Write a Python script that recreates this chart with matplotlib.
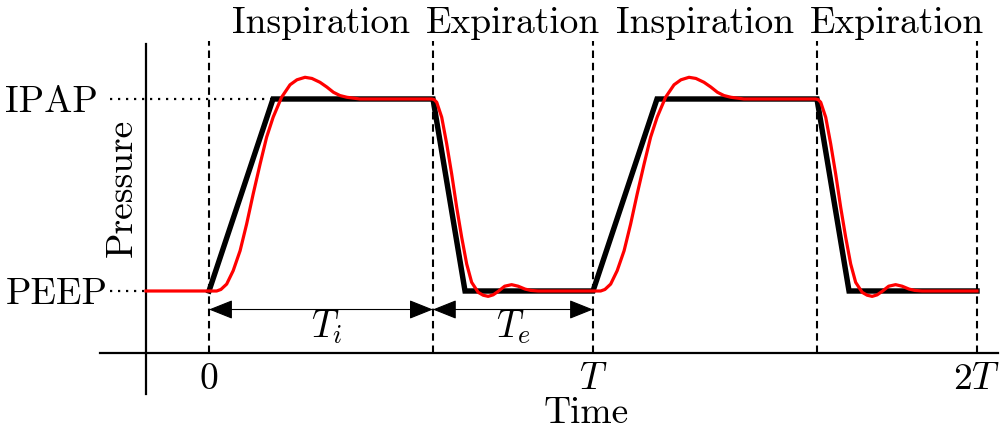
import matplotlib
matplotlib.use("Agg")
import matplotlib.pyplot as plt
from matplotlib.patches import FancyArrowPatch

plt.rcParams['font.family'] = 'cmr10'
plt.rcParams['mathtext.fontset'] = 'cm'
plt.rcParams['axes.formatter.use_mathtext'] = True

# time in units of the period T, pressure normalised (PEEP = 0, IPAP = 1)
Ti = 0.583
T = 1.0

# ideal (black) pressure profile
black_t = [0.0, 0.1667, 0.5833, 0.6667, 1.0, 1.1667, 1.5833, 1.6667, 2.0]
black_p = [0, 1, 1, 0, 0, 1, 1, 0, 0]

red_t = [-0.164, 0.020, 0.031, 0.046, 0.063, 0.081, 0.098, 0.115, 0.133, 0.150,
         0.167, 0.189, 0.211, 0.229, 0.250, 0.268, 0.289, 0.307, 0.324, 0.341,
         0.359, 0.393, 0.580, 0.586, 0.593, 0.606, 0.619, 0.632, 0.645, 0.658,
         0.671, 0.684, 0.701, 0.714, 0.727, 0.740, 0.753, 0.770, 0.788, 0.805,
         0.823, 0.838, 0.857, 1.000,
         1.020, 1.031, 1.046, 1.063, 1.081, 1.098, 1.115, 1.133, 1.150,
         1.167, 1.189, 1.211, 1.229, 1.250, 1.268, 1.289, 1.307, 1.324, 1.341,
         1.359, 1.393, 1.580, 1.586, 1.593, 1.606, 1.619, 1.632, 1.645, 1.658,
         1.671, 1.684, 1.701, 1.714, 1.727, 1.740, 1.753, 1.770, 1.788, 1.805,
         1.823, 1.838, 1.857, 2.000]
red_p = [0.0, 0.0, 0.008, 0.036, 0.106, 0.210, 0.349, 0.505, 0.661, 0.801,
         0.905, 1.009, 1.074, 1.100, 1.113, 1.107, 1.087, 1.062, 1.035, 1.018,
         1.009, 1.000, 1.000, 0.997, 0.983, 0.905, 0.766, 0.609, 0.436, 0.280,
         0.141, 0.045, -0.007, -0.022, -0.028, -0.020, -0.002, 0.025, 0.033, 0.025,
         0.010, 0.003, 0.000, 0.000,
         0.0, 0.008, 0.036, 0.106, 0.210, 0.349, 0.505, 0.661, 0.801,
         0.905, 1.009, 1.074, 1.100, 1.113, 1.107, 1.087, 1.062, 1.035, 1.018,
         1.009, 1.000, 1.000, 0.997, 0.983, 0.905, 0.766, 0.609, 0.436, 0.280,
         0.141, 0.045, -0.007, -0.022, -0.028, -0.020, -0.002, 0.025, 0.033, 0.025,
         0.010, 0.003, 0.000, 0.000]

phase_edges = [0.0, Ti, T, T + Ti, 2 * T]
phase_names = ['Inspiration', 'Expiration', 'Inspiration', 'Expiration']
xtick_pos = [0, 1, 2]
xtick_labels = ['0', '$T$', '$2T$']

fs = 27

fig = plt.figure(figsize=(10.03, 4.35), dpi=100)
ax = fig.add_axes([0, 0, 1, 1])
ax.set_xlim(-0.5443, 2.0677)
ax.set_ylim(-0.7448, 1.5208)
ax.patch.set_alpha(0)

# axes lines
for s in ['top', 'right']:
    ax.spines[s].set_visible(False)
ax.spines['left'].set_position(('data', -0.1641))
ax.spines['left'].set_bounds(-0.5365, 1.2865)
ax.spines['bottom'].set_position(('data', -0.3229))
ax.spines['bottom'].set_bounds(-0.2839, 2.0547)
for s in ['left', 'bottom']:
    ax.spines[s].set_linewidth(1.6)

ax.set_yticks([])
ax.set_xticks(xtick_pos)
ax.set_xticklabels(xtick_labels, fontsize=fs)
ax.tick_params(axis='x', length=0, pad=6)

# phase boundaries
for x in phase_edges:
    ax.plot([x, x], [-0.3229, 1.302], color='black', lw=1.5,
            dashes=(3.6, 2.3), zorder=1)

# level guides
ax.plot([-0.258, 0.1667], [1, 1], color='black', lw=1.6,
        linestyle=(0, (1, 2.6)), zorder=1)
ax.plot([-0.258, -0.1641], [0, 0], color='black', lw=1.6,
        linestyle=(0, (1, 2.6)), zorder=1)
ax.text(-0.289, 0.935, 'IPAP', fontsize=fs, ha='right', va='baseline')
ax.text(-0.263, -0.065, 'PEEP', fontsize=fs, ha='right', va='baseline')

ax.plot(black_t, black_p, color='black', lw=3.9, solid_joinstyle='miter', zorder=3)
ax.plot(red_t, red_p, color='red', lw=2.3, zorder=4)

# phase names
for i, name in enumerate(phase_names):
    xm = (phase_edges[i] + phase_edges[i + 1]) / 2
    ax.text(xm, 1.349, name, fontsize=fs, ha='center', va='baseline')

# duration arrows
arrow_y = -0.0964
for a, b in [(0.0, Ti), (Ti, T)]:
    ax.add_patch(FancyArrowPatch((a, arrow_y), (b, arrow_y),
                                 arrowstyle='<|-|>,head_length=0.75,head_width=0.3',
                                 mutation_scale=20, lw=0.8, color='black',
                                 shrinkA=0, shrinkB=0, zorder=2))
ax.text(0.307, -0.182, '$T_i$', fontsize=fs, ha='center', va='center')
ax.text(0.794, -0.182, '$T_e$', fontsize=fs, ha='center', va='center')

ax.text(-0.2266, 0.5417, 'Pressure', fontsize=fs, rotation=90,
        ha='center', va='center')
ax.text(0.982, -0.63, 'Time', fontsize=fs, ha='center', va='center')

fig.savefig('out.png', dpi=100)
